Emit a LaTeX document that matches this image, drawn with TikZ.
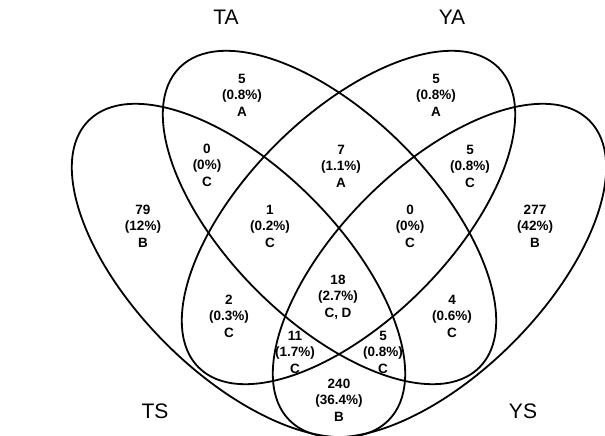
\documentclass[tikz,border=0pt]{standalone}
\usepackage{fontspec}
\setmainfont{Liberation Sans}
\usetikzlibrary{positioning}

\tikzset{
  setline/.style={line width=1.8pt},
  cnt/.style={align=center, inner sep=0pt,
    font=\bfseries\fontsize{13.5}{16.5}\selectfont},
  setname/.style={inner sep=0pt, font=\fontsize{21}{25}\selectfont}
}

\begin{document}
\begin{tikzpicture}[x=1pt,y=1pt]
  \useasboundingbox (0,0) rectangle (605,436);
  \coordinate(TS) at (238.5,165.5);
  \coordinate(TA) at (329.5,218.5);
  \coordinate(YA) at (348.5,218.5);
  \coordinate(YS) at (439.5,165.5);
  \draw[setline, rotate around={-45:(TS)}](TS) ellipse[x radius=212pt, y radius=103pt];
  \draw[setline, rotate around={-45:(TA)}](TA) ellipse[x radius=212pt, y radius=103pt];
  \draw[setline, rotate around={45:(YA)}](YA) ellipse[x radius=212pt, y radius=103pt];
  \draw[setline, rotate around={45:(YS)}](YS) ellipse[x radius=212pt, y radius=103pt];
  \node[setname](lTA) at (226,419){TA};
  \node[setname](lYA) at (452,419){YA};
  \node[setname](lTS) at (155,25){TS};
  \node[setname](lYS) at (523,25){YS};
  \node[cnt](ta) at (242,341){5\\(0.8\%)\\A};
  \node[cnt](ya) at (436,341){5\\(0.8\%)\\A};
  \node[cnt](tsta) at (207,271){0\\(0\%)\\C};
  \node[cnt](taya) at (341,270){7\\(1.1\%)\\A};
  \node[cnt](yays) at (470,270){5\\(0.8\%)\\C};
  \node[cnt](ts) at (143,210){79\\(12\%)\\B};
  \node[cnt](tstaya) at (270,210){1\\(0.2\%)\\C};
  \node[cnt](tayays) at (410,210){0\\(0\%)\\C};
  \node[cnt](ys) at (535,210){277\\(42\%)\\B};
  \node[cnt](all) at (338,139){18\\(2.7\%)\\C, D};
  \node[cnt](tsya) at (229,120){2\\(0.3\%)\\C};
  \node[cnt](tays) at (452,120){4\\(0.6\%)\\C};
  \node[cnt](tsyays) at (295,84){11\\(1.7\%)\\C};
  \node[cnt](tstays) at (383,84){5\\(0.8\%)\\C};
  \node[cnt](tsys) at (339,36){240\\(36.4\%)\\B};
\end{tikzpicture}
\end{document}
